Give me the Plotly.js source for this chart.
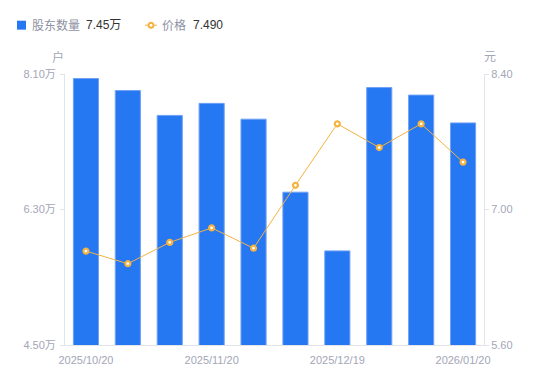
<!DOCTYPE html>
<html>
<head>
<meta charset="utf-8">
<script src="https://cdn.plot.ly/plotly-3.0.1.min.js"></script>
<style>
html,body{margin:0;padding:0;background:#fff;}
#chart{width:550px;height:381px;}
</style>
</head>
<body>
<div id="chart"></div>
<script>
// Data
const categories = [0, 1, 2, 3, 4, 5, 6, 7, 8, 9];
const tickPositions = [0, 3, 6, 9];
const tickLabels = ['2025/10/20', '2025/11/20', '2025/12/19', '2026/01/20'];
const holders = [8.04, 7.88, 7.55, 7.71, 7.50, 6.53, 5.75, 7.92, 7.82, 7.45]; // 万户
const prices = [6.57, 6.44, 6.66, 6.81, 6.60, 7.25, 7.885, 7.64, 7.885, 7.49]; // 元
const leftTicks = [4.5, 6.3, 8.1];
const rightTicks = [5.6, 7.0, 8.4];
const holderName = '股东数量';
const priceName = '价格';
const holderLatest = '7.45万';
const priceLatest = '7.490';

const W = 550, H = 381;
const ml = 65, mr = 66, mt = 73.5, mb = 35.5;
const pw = W - ml - mr, ph = H - mt - mb;
const px = x => (x - ml) / pw;
const py = y => 1 - (y - mt) / ph;

const blue = '#2677F2';
const orange = '#F5B342';
const tickColor = '#A3A6B7';
const axisColor = '#E3E4E9';
const fontFam = 'Liberation Sans, Arial, Noto Sans CJK SC, sans-serif';

const traces = [
  {
    type: 'bar', x: categories, y: holders, yaxis: 'y',
    marker: {color: blue, line: {color: '#6FA2F5', width: 1}},
    hoverinfo: 'skip'
  },
  {
    type: 'scatter', mode: 'lines+markers', x: categories, y: prices, yaxis: 'y2',
    line: {color: orange, width: 1},
    marker: {symbol: 'circle', size: 5, color: '#fff', line: {color: orange, width: 2.2}},
    hoverinfo: 'skip'
  }
];

const layout = {
  width: W, height: H,
  margin: {l: ml, r: mr, t: mt, b: mb, pad: 0},
  paper_bgcolor: '#fff', plot_bgcolor: '#fff',
  showlegend: false,
  bargap: 0.4,
  font: {family: fontFam, size: 11, color: tickColor},
  xaxis: {
    range: [-0.5, 9.5], tickmode: 'array', tickvals: tickPositions, ticktext: tickLabels,
    showgrid: false, zeroline: false, showline: true, linecolor: axisColor, linewidth: 1,
    ticks: '', ticklabelstandoff: 5,
    tickfont: {size: 11, color: tickColor, family: fontFam}, fixedrange: true
  },
  yaxis: {
    range: [4.5, 8.1], tickmode: 'array', tickvals: leftTicks,
    ticktext: leftTicks.map(v => v.toFixed(2) + '万'),
    showgrid: false, zeroline: false, showline: true, linecolor: axisColor, linewidth: 1,
    ticks: 'outside', ticklen: 4, tickcolor: axisColor, ticklabelstandoff: 2,
    tickfont: {size: 11, color: tickColor, family: fontFam}, fixedrange: true
  },
  yaxis2: {
    range: [5.6, 8.4], overlaying: 'y', side: 'right', tickmode: 'array', tickvals: rightTicks,
    ticktext: rightTicks.map(v => v.toFixed(2)),
    showgrid: false, zeroline: false, showline: true, linecolor: axisColor, linewidth: 1,
    ticks: 'outside', ticklen: 4, tickcolor: axisColor,
    tickfont: {size: 11, color: tickColor, family: fontFam}, fixedrange: true
  },
  shapes: [
    {type: 'rect', xref: 'paper', yref: 'paper', x0: px(17), x1: px(26), y0: py(29), y1: py(20),
     fillcolor: blue, line: {width: 0}},
    {type: 'line', xref: 'paper', yref: 'paper', x0: px(145), x1: px(157), y0: py(24.5), y1: py(24.5),
     line: {color: orange, width: 1}},
    {type: 'circle', xref: 'paper', yref: 'paper', x0: px(148.5), x1: px(153.5), y0: py(27), y1: py(22),
     fillcolor: '#fff', line: {color: orange, width: 2}}
  ],
  annotations: [
    {xref: 'paper', yref: 'paper', x: px(30), y: py(24.5), xanchor: 'left', yanchor: 'middle',
     text: holderName, showarrow: false, font: {family: fontFam, size: 12, color: '#8E91A3'}},
    {xref: 'paper', yref: 'paper', x: px(84), y: py(24.5), xanchor: 'left', yanchor: 'middle',
     text: holderLatest, showarrow: false, font: {family: fontFam, size: 12, color: '#333'}},
    {xref: 'paper', yref: 'paper', x: px(160), y: py(24.5), xanchor: 'left', yanchor: 'middle',
     text: priceName, showarrow: false, font: {family: fontFam, size: 12, color: '#8E91A3'}},
    {xref: 'paper', yref: 'paper', x: px(191), y: py(24.5), xanchor: 'left', yanchor: 'middle',
     text: priceLatest, showarrow: false, font: {family: fontFam, size: 12, color: '#333'}},
    {xref: 'paper', yref: 'paper', x: px(58), y: py(56.5), xanchor: 'center', yanchor: 'middle',
     text: '户', showarrow: false, font: {family: fontFam, size: 12, color: tickColor}},
    {xref: 'paper', yref: 'paper', x: px(490), y: py(56.5), xanchor: 'center', yanchor: 'middle',
     text: '元', showarrow: false, font: {family: fontFam, size: 12, color: tickColor}}
  ]
};

Plotly.newPlot('chart', traces, layout, {displayModeBar: false, staticPlot: true});
</script>
</body>
</html>
